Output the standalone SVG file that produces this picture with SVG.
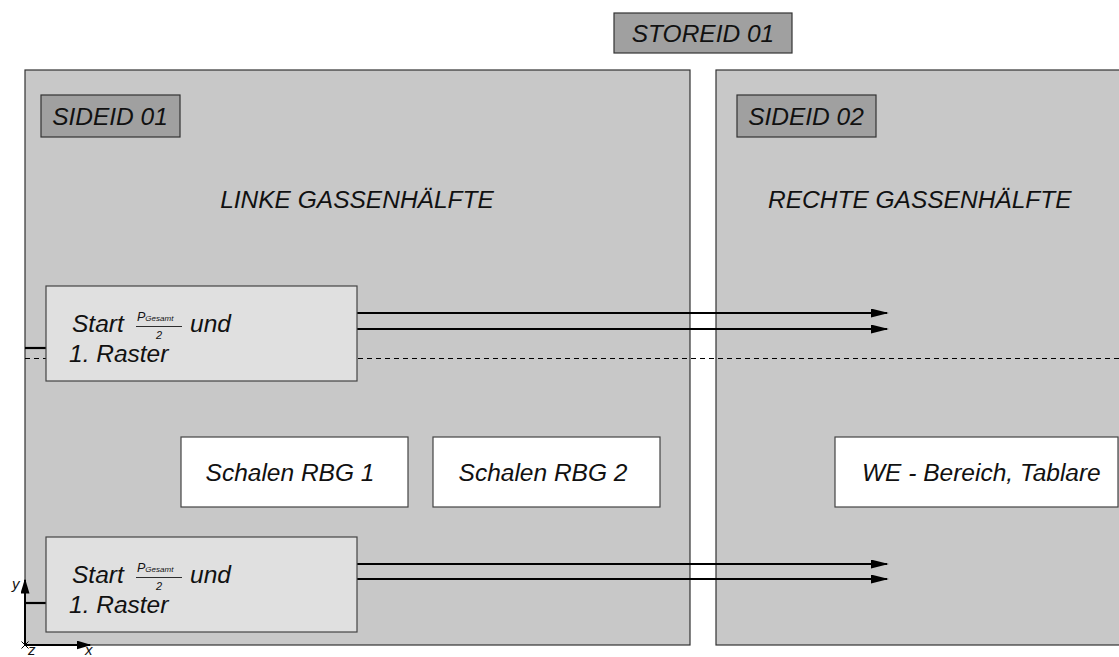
<svg xmlns="http://www.w3.org/2000/svg" width="1119" height="657" viewBox="0 0 1119 657">
  <defs>
    <style>
      text { font-family: "Liberation Sans", "DejaVu Sans", sans-serif; font-style: italic; fill: #111; }
      .panel { fill: #c8c8c8; stroke: #333; stroke-width: 1.2; }
      .tag { fill: #a0a0a0; stroke: #333; stroke-width: 1.2; }
      .start { fill: #e0e0e0; stroke: #444; stroke-width: 1.2; }
      .plain { fill: #ffffff; stroke: #444; stroke-width: 1.2; }
      .lbl { font-size: 24.5px; }
      .conn { stroke: #000; stroke-width: 2.2; fill: none; }
      .dash { stroke: #000; stroke-width: 1; stroke-dasharray: 5 4; fill: none; }
      .axis { font-size: 15px; }
    </style>
    <marker id="arr" viewBox="0 0 10 10" refX="9" refY="5" markerWidth="15" markerHeight="9" markerUnits="userSpaceOnUse" orient="auto" preserveAspectRatio="none">
      <path d="M0,0 L10,5 L0,10 Z" fill="#000"/>
    </marker>
    <marker id="arrBig" viewBox="0 0 10 10" refX="9" refY="5" markerWidth="18" markerHeight="9" markerUnits="userSpaceOnUse" orient="auto" preserveAspectRatio="none">
      <path d="M0,0 L10,5 L0,10 Z" fill="#000"/>
    </marker>
  </defs>

  <!-- store label -->
  <g id="storeid">
    <rect class="tag" x="614" y="13" width="178" height="40"/>
    <text class="lbl" x="703" y="42" text-anchor="middle">STOREID 01</text>
  </g>

  <!-- left aisle half -->
  <g id="side-left">
    <rect class="panel" x="25" y="70" width="665" height="575"/>
    <rect class="tag" x="41" y="95" width="139" height="42"/>
    <text class="lbl" x="110" y="125" text-anchor="middle">SIDEID 01</text>
    <text class="lbl" x="357" y="208" text-anchor="middle">LINKE GASSENHÄLFTE</text>
  </g>

  <!-- right aisle half -->
  <g id="side-right">
    <rect class="panel" x="716" y="70" width="420" height="575"/>
    <rect class="tag" x="737" y="95" width="139" height="42"/>
    <text class="lbl" x="806" y="125" text-anchor="middle">SIDEID 02</text>
    <text class="lbl" x="768" y="208">RECHTE GASSENHÄLFTE</text>
  </g>

  <!-- connectors -->
  <g id="connectors">
    <line class="dash" x1="25" y1="358.5" x2="1119" y2="358.5"/>
    <line class="conn" x1="25" y1="348" x2="46" y2="348"/>
    <line class="conn" x1="357" y1="313" x2="887" y2="313" marker-end="url(#arrBig)"/>
    <line class="conn" x1="357" y1="329" x2="887" y2="329" marker-end="url(#arrBig)"/>
    <line class="conn" x1="25" y1="603" x2="46" y2="603"/>
    <line class="conn" x1="357" y1="564" x2="887" y2="564" marker-end="url(#arrBig)"/>
    <line class="conn" x1="357" y1="579" x2="887" y2="579" marker-end="url(#arrBig)"/>
  </g>

  <!-- start block, upper -->
  <g id="start-top">
    <rect class="start" x="46" y="286" width="311" height="95"/>
    <text class="lbl" x="72" y="332">Start</text>
    <text x="137" y="321" font-size="12.5">P<tspan font-size="8">Gesamt</tspan></text>
    <line x1="136" y1="326.5" x2="182" y2="326.5" stroke="#000" stroke-width="0.8"/>
    <text x="159" y="339" font-size="11" text-anchor="middle">2</text>
    <text class="lbl" x="190" y="332">und</text>
    <text class="lbl" x="69" y="362">1. Raster</text>
  </g>

  <!-- start block, lower -->
  <g id="start-bottom">
    <rect class="start" x="46" y="537" width="311" height="95"/>
    <text class="lbl" x="72" y="583">Start</text>
    <text x="137" y="572" font-size="12.5">P<tspan font-size="8">Gesamt</tspan></text>
    <line x1="136" y1="577.5" x2="182" y2="577.5" stroke="#000" stroke-width="0.8"/>
    <text x="159" y="590" font-size="11" text-anchor="middle">2</text>
    <text class="lbl" x="190" y="583">und</text>
    <text class="lbl" x="69" y="613">1. Raster</text>
  </g>

  <g id="rbg1">
    <rect class="plain" x="181" y="437" width="227" height="70"/>
    <text class="lbl" x="290" y="481" text-anchor="middle">Schalen RBG 1</text>
  </g>
  <g id="rbg2">
    <rect class="plain" x="433" y="437" width="227" height="70"/>
    <text class="lbl" x="543" y="481" text-anchor="middle">Schalen RBG 2</text>
  </g>
  <g id="we">
    <rect class="plain" x="835" y="437" width="283" height="70"/>
    <text class="lbl" x="862" y="481">WE - Bereich, Tablare</text>
  </g>

  <!-- coordinate axes -->
  <g id="axes">
    <line x1="25" y1="645" x2="25" y2="580" stroke="#000" stroke-width="2" marker-end="url(#arr)"/>
    <line x1="25" y1="645" x2="90" y2="645" stroke="#000" stroke-width="2" marker-end="url(#arr)"/>
    <path d="M21.5,641.5 L28.5,648.5 M28.5,641.5 L21.5,648.5" stroke="#000" stroke-width="1"/>
    <text class="axis" x="12" y="589">y</text>
    <text class="axis" x="28" y="655">z</text>
    <text class="axis" x="85" y="655">x</text>
  </g>
</svg>
